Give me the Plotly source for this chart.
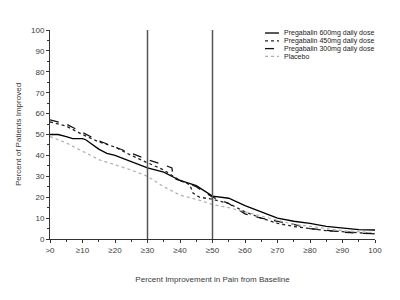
import plotly.graph_objects as go

# Data
x600 = [0, 2.5, 5, 7, 10, 11, 15, 17.5, 20, 25, 30, 35, 40, 45, 50, 55, 60, 65, 70, 75, 80, 85, 90, 95, 100]
y600 = [50, 50, 49, 48, 48, 47.5, 43, 41, 40, 37, 34, 32, 28, 25.5, 20.5, 19.5, 16, 13, 10, 8.5, 7.5, 6, 5.3, 4.5, 4.3]

x450 = [0, 5, 10, 15, 20, 25, 30, 35, 40, 43, 44, 46, 50, 55, 60, 65, 70, 75, 80, 85, 90, 95, 100]
y450 = [56, 54, 50, 46.5, 44, 40, 36.5, 33, 28, 26, 22, 20, 19, 17, 13, 10, 7.5, 6, 5, 4, 3.5, 3, 2.5]

x300 = [0, 5, 10, 15, 20, 25, 30, 35, 37.5, 38, 40, 45, 50, 55, 60, 65, 70, 75, 80, 85, 90, 95, 100]
y300 = [57, 55, 51, 47, 44, 41, 38, 35.5, 34, 29, 28, 25, 20, 17, 12, 10, 8.5, 7, 5, 4, 3.3, 2.8, 2.5]

xpl = [0, 5, 10, 15, 20, 25, 30, 35, 40, 45, 50, 55, 60, 65, 70, 75, 80, 85, 90, 95, 100]
ypl = [49, 46, 42, 38, 35.5, 33, 30, 25, 21, 19, 16.5, 15, 13, 11, 9, 7, 6, 5, 4, 3.5, 3]

tick_vals = [0, 10, 20, 30, 40, 50, 60, 70, 80, 90, 100]
tick_text = [">0", "≥10", "≥20", "≥30", "≥40", "≥50", "≥60", "≥70", "≥80", "≥90", "100"]
ref_lines = [30, 50]

series_names = ["Pregabalin 600mg daily dose", "Pregabalin 450mg daily dose",
                "Pregabalin 300mg daily dose", "Placebo"]
series_x = [x600, x450, x300, xpl]
series_y = [y600, y450, y300, ypl]
styles = [dict(color="black", width=1.3, dash="solid"),
          dict(color="#222", width=1.3, dash="dot"),
          dict(color="#111", width=1.3, dash="dash"),
          dict(color="#b0b0b0", width=1.2, dash="dot")]

fig = go.Figure()
for name, xs, ys, st in zip(series_names, series_x, series_y, styles):
    fig.add_trace(go.Scatter(x=xs, y=ys, mode="lines", name=name, line=st, showlegend=False))

for xv in ref_lines:
    fig.add_shape(type="line", x0=xv, x1=xv, y0=0, y1=100, xref="x", yref="y",
                  line=dict(color="#555", width=1.5))

# Compact legend (drawn manually to match the tight spacing of the reference)
leg_font = dict(family="Liberation Sans, Arial", size=7, color="#222")
for i, (name, st) in enumerate(zip(series_names, styles)):
    ypx = 33 + i * 7.8  # pixels from top
    ypaper = (239 - ypx) / 209
    fig.add_shape(type="line", xref="paper", yref="paper",
                  x0=(265 - 50) / 325, x1=(279 - 50) / 325, y0=ypaper, y1=ypaper,
                  line=dict(color=st["color"], width=st["width"], dash=st["dash"]))
    fig.add_annotation(xref="paper", yref="paper", x=(283 - 50) / 325, y=ypaper,
                       xanchor="left", yanchor="middle", text=name, showarrow=False,
                       font=leg_font, borderpad=0)

axis_font = dict(family="Liberation Sans, Arial", size=8, color="#3a3a3a")
fig.update_layout(
    width=400, height=300,
    margin=dict(l=50, r=25, t=30, b=61, autoexpand=False),
    paper_bgcolor="white", plot_bgcolor="white",
    font=axis_font,
    showlegend=False,
    xaxis=dict(range=[0, 100], tickvals=tick_vals, ticktext=tick_text,
               showgrid=False, zeroline=False, showline=True, linecolor="#333", linewidth=1,
               ticks="outside", ticklen=3, tickcolor="#333",
               minor=dict(dtick=5, ticks="outside", ticklen=2, tickcolor="#333"),
               title=dict(text="Percent Improvement in Pain from Baseline", standoff=22,
                          font=dict(family="Liberation Sans, Arial", size=8, color="#3a3a3a")),
               tickfont=axis_font),
    yaxis=dict(range=[0, 100], dtick=10,
               showgrid=False, zeroline=False, showline=True, linecolor="#333", linewidth=1,
               ticks="outside", ticklen=3, tickcolor="#333",
               minor=dict(dtick=5, ticks="outside", ticklen=2, tickcolor="#333"),
               title=dict(text="Percent of Patients Improved", standoff=8,
                          font=dict(family="Liberation Sans, Arial", size=8, color="#3a3a3a")),
               tickfont=axis_font),
)

fig.write_html("out.html")
